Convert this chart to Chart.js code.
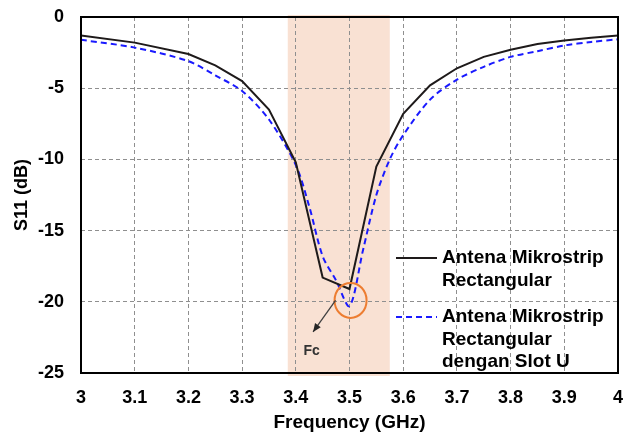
<!DOCTYPE html>
<html>
<head>
<meta charset="utf-8">
<script src="https://cdn.jsdelivr.net/npm/chart.js@4.4.1/dist/chart.umd.min.js"></script>
<style>
    html, body { margin: 0; padding: 0; background: #ffffff; }
    #wrap { width: 633px; height: 437px; }
</style>
</head>
<body>
<div id="wrap"><canvas id="s11Chart" width="633" height="437"></canvas></div>
<script>
// Dati
const freqRect = [3.0, 3.1, 3.2, 3.25, 3.3, 3.35, 3.4, 3.45, 3.5, 3.55, 3.6, 3.65, 3.7, 3.75, 3.8, 3.85, 3.9, 3.95, 4.0];
const s11Rect = [-1.3, -1.8, -2.6, -3.4, -4.5, -6.5, -10.2, -18.3, -19.1, -10.5, -6.8, -4.8, -3.6, -2.8, -2.3, -1.9, -1.65, -1.45, -1.3];

const freqSlot = [3.0, 3.1, 3.2, 3.25, 3.3, 3.35, 3.4, 3.425, 3.45, 3.475, 3.5, 3.525, 3.55, 3.575, 3.6, 3.65, 3.7, 3.75, 3.8, 3.85, 3.9, 3.95, 4.0];
const s11Slot = [-1.6, -2.15, -3.1, -4.1, -5.2, -7.2, -10.4, -13.3, -16.8, -18.5, -20.3, -16.4, -12.5, -10.0, -8.3, -5.8, -4.4, -3.5, -2.8, -2.4, -2.0, -1.75, -1.57];

const seriesNames = ["Antena Mikrostrip Rectangular", "Antena Mikrostrip Rectangular dengan Slot U"];
const legendLines = [["Antena Mikrostrip", "Rectangular"], ["Antena Mikrostrip", "Rectangular", "dengan Slot U"]];

const xTicks = [3, 3.1, 3.2, 3.3, 3.4, 3.5, 3.6, 3.7, 3.8, 3.9, 4];
const yTicks = [0, -5, -10, -15, -20, -25];

const bandStart = 3.385;
const bandEnd = 3.575;
const fcPoint = { x: 3.502, y: -19.9 };
const fcLabel = "Fc";

const FONT = "'Liberation Sans', Arial, sans-serif";

// Banda evidenziata dietro la griglia
const bandPlugin = {
    id: "band",
    beforeDraw(chart) {
        const { ctx, chartArea, scales } = chart;
        const x1 = scales.x.getPixelForValue(bandStart);
        const x2 = scales.x.getPixelForValue(bandEnd);
        ctx.save();
        ctx.fillStyle = "#f9e1d3";
        ctx.fillRect(x1, chartArea.top - 2, x2 - x1, chartArea.bottom - chartArea.top + 5);
        ctx.restore();
    }
};

// Bordo, legenda interna e annotazione Fc
const overlayPlugin = {
    id: "overlay",
    afterDatasetsDraw(chart) {
        const { ctx, chartArea, scales } = chart;
        ctx.save();

        ctx.strokeStyle = "#000000";
        ctx.lineWidth = 2;
        ctx.strokeRect(chartArea.left, chartArea.top, chartArea.right - chartArea.left, chartArea.bottom - chartArea.top);

        // ellisse arancione
        const cx = scales.x.getPixelForValue(fcPoint.x);
        const cy = scales.y.getPixelForValue(fcPoint.y);
        ctx.strokeStyle = "#ed7d31";
        ctx.lineWidth = 2;
        ctx.beginPath();
        ctx.ellipse(cx, cy, 16, 17.5, 0, 0, Math.PI * 2);
        ctx.stroke();

        // freccia verso Fc
        const ax = cx - 15, ay = cy;
        const bx = cx - 37.5, by = cy + 31.5;
        ctx.strokeStyle = "#404040";
        ctx.fillStyle = "#262626";
        ctx.lineWidth = 1.3;
        ctx.beginPath();
        ctx.moveTo(ax, ay);
        ctx.lineTo(bx, by);
        ctx.stroke();
        const ang = Math.atan2(by - ay, bx - ax);
        ctx.beginPath();
        ctx.moveTo(bx, by);
        ctx.lineTo(bx - 9 * Math.cos(ang - 0.4), by - 9 * Math.sin(ang - 0.4));
        ctx.lineTo(bx - 9 * Math.cos(ang + 0.4), by - 9 * Math.sin(ang + 0.4));
        ctx.closePath();
        ctx.fill();

        ctx.fillStyle = "#333333";
        ctx.font = "bold 14px " + FONT;
        ctx.textAlign = "center";
        ctx.textBaseline = "middle";
        ctx.fillText(fcLabel, bx - 1.5, by + 19.5);

        // legenda
        const styles = chart.data.datasets;
        const starts = [258, 317];
        ctx.font = "bold 19px " + FONT;
        ctx.textAlign = "left";
        legendLines.forEach((lines, i) => {
            const ds = styles[i];
            ctx.strokeStyle = ds.borderColor;
            ctx.lineWidth = 2;
            ctx.setLineDash(ds.borderDash || []);
            ctx.beginPath();
            ctx.moveTo(396, starts[i]);
            ctx.lineTo(437, starts[i]);
            ctx.stroke();
            ctx.setLineDash([]);
            ctx.fillStyle = "#000000";
            lines.forEach((t, j) => ctx.fillText(t, 442, starts[i] + j * 22.5));
        });

        ctx.restore();
    }
};

const ctx = document.getElementById("s11Chart").getContext("2d");

new Chart(ctx, {
    type: "line",
    data: {
        datasets: [{
            label: seriesNames[0],
            data: freqRect.map((f, i) => ({ x: f, y: s11Rect[i] })),
            borderColor: "#1e1a1a",
            borderWidth: 2,
            pointRadius: 0,
            tension: 0,
            fill: false
        }, {
            label: seriesNames[1],
            data: freqSlot.map((f, i) => ({ x: f, y: s11Slot[i] })),
            borderColor: "#1a1aff",
            borderWidth: 2,
            borderDash: [6, 4],
            pointRadius: 0,
            tension: 0.3,
            fill: false
        }]
    },
    options: {
        responsive: false,
        animation: false,
        layout: { padding: { top: 17, right: 15, left: 0, bottom: 0 } },
        plugins: {
            legend: { display: false },
            tooltip: { enabled: false }
        },
        scales: {
            x: {
                type: "linear",
                min: 3,
                max: 4,
                afterBuildTicks: axis => { axis.ticks = xTicks.map(v => ({ value: v })); },
                afterFit: axis => {
                    axis.height = 64;
                    axis.paddingLeft = 0;
                    axis.paddingRight = 0;
                },
                ticks: {
                    color: "#000000",
                    font: { family: FONT, size: 18, weight: "bold" },
                    padding: 14,
                    maxRotation: 0,
                    callback: v => String(Math.round(v * 10) / 10)
                },
                grid: {
                    color: "#8f8f8f",
                    lineWidth: 1,
                    drawTicks: false
                },
                border: { display: false, dash: [4, 3] },
                title: {
                    display: true,
                    text: "Frequency (GHz)",
                    color: "#000000",
                    font: { family: FONT, size: 19, weight: "bold" },
                    padding: { top: 0, bottom: 3 }
                }
            },
            y: {
                min: -25,
                max: 0,
                afterBuildTicks: axis => { axis.ticks = yTicks.map(v => ({ value: v })); },
                afterFit: axis => {
                    axis.width = 81;
                    axis.paddingTop = 0;
                    axis.paddingBottom = 0;
                },
                ticks: {
                    color: "#000000",
                    font: { family: FONT, size: 18, weight: "bold" },
                    padding: 17
                },
                grid: {
                    color: "#8f8f8f",
                    lineWidth: 1,
                    drawTicks: false
                },
                border: { display: false, dash: [4, 3] },
                title: {
                    display: true,
                    text: "S11 (dB)",
                    color: "#000000",
                    font: { family: FONT, size: 18, weight: "bold" },
                    padding: { top: 11, bottom: 0 }
                }
            }
        }
    },
    plugins: [bandPlugin, overlayPlugin]
});
</script>
</body>
</html>
